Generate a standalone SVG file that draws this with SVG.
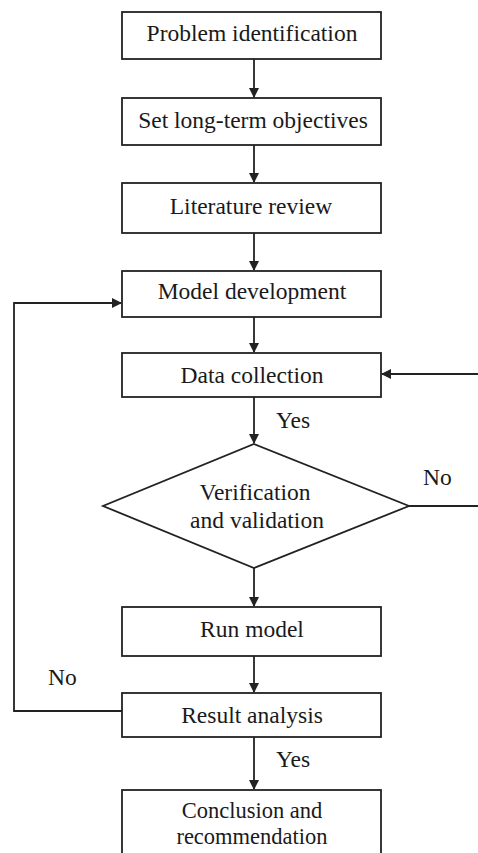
<svg xmlns="http://www.w3.org/2000/svg" width="478" height="853" viewBox="0 0 478 853">
<style>
.box{fill:#fff;stroke:#222;stroke-width:1.8}
.t{font-family:"Liberation Serif","Times New Roman",serif;font-size:23.5px;fill:#1a1a1a;text-anchor:middle}
.s{font-size:22.5px}
.l{font-family:"Liberation Serif","Times New Roman",serif;font-size:23.5px;fill:#1a1a1a}
.c{fill:none;stroke:#222;stroke-width:1.8}
</style>
<defs>
<marker id="ah" markerWidth="10" markerHeight="10" refX="9" refY="5" orient="auto" markerUnits="userSpaceOnUse">
<path d="M0,0 L10,5 L0,10 Z" fill="#222"/>
</marker>
</defs>
<rect width="478" height="853" fill="#fff"/>
<g id="connectors">
<line class="c" x1="254" y1="59" x2="254" y2="97" marker-end="url(#ah)"/>
<line class="c" x1="254" y1="145" x2="254" y2="182" marker-end="url(#ah)"/>
<line class="c" x1="254" y1="233" x2="254" y2="270" marker-end="url(#ah)"/>
<line class="c" x1="254" y1="317" x2="254" y2="352" marker-end="url(#ah)"/>
<line class="c" x1="254" y1="397" x2="254" y2="443" marker-end="url(#ah)"/>
<line class="c" x1="254" y1="568" x2="254" y2="606" marker-end="url(#ah)"/>
<line class="c" x1="254" y1="656" x2="254" y2="692" marker-end="url(#ah)"/>
<line class="c" x1="254" y1="737" x2="254" y2="789" marker-end="url(#ah)"/>
<polyline class="c" points="122,711 14,711 14,303 121,303" marker-end="url(#ah)"/>
<line class="c" x1="478" y1="374" x2="382" y2="374" marker-end="url(#ah)"/>
<line class="c" x1="409" y1="506" x2="478" y2="506"/>
<text class="l" x="276" y="428">Yes</text>
<text class="l" x="423" y="485">No</text>
<text class="l" x="48" y="685">No</text>
<text class="l" x="276" y="767">Yes</text>
</g>
<g id="n1"><rect class="box" x="122" y="12" width="259" height="47"/><text class="t" x="252" y="41">Problem identification</text></g>
<g id="n2"><rect class="box" x="122" y="98" width="259" height="47"/><text class="t" x="253" y="128">Set long-term objectives</text></g>
<g id="n3"><rect class="box" x="122" y="183" width="259" height="50"/><text class="t" x="251" y="214">Literature review</text></g>
<g id="n4"><rect class="box" x="122" y="271" width="259" height="46"/><text class="t" x="252" y="299">Model development</text></g>
<g id="n5"><rect class="box" x="122" y="353" width="259" height="44"/><text class="t" x="252" y="383">Data collection</text></g>
<g id="n6"><polygon class="box" points="254,444 409,506 254,568 103,506"/><text class="t" x="255" y="500">Verification</text><text class="t" x="257" y="528">and validation</text></g>
<g id="n7"><rect class="box" x="122" y="607" width="259" height="49"/><text class="t" x="252" y="637">Run model</text></g>
<g id="n8"><rect class="box" x="122" y="693" width="259" height="44"/><text class="t" x="252" y="723">Result analysis</text></g>
<g id="n9"><rect class="box" x="122" y="790" width="259" height="80"/><text class="t s" x="252" y="818">Conclusion and</text><text class="t s" x="252" y="844">recommendation</text></g>
</svg>
